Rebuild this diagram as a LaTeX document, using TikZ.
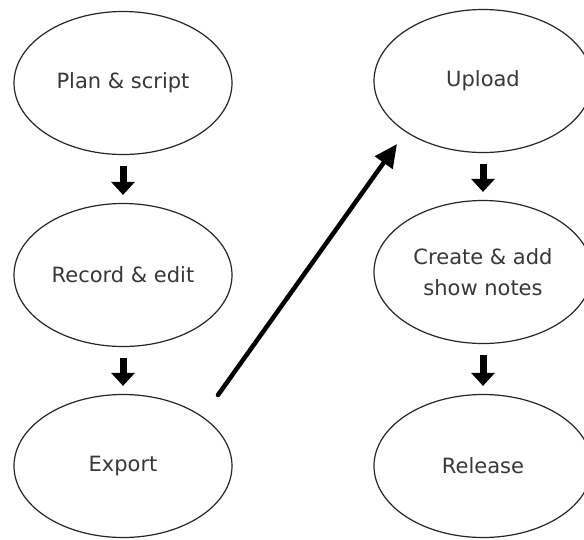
\documentclass[tikz,border=0pt]{standalone}
\usepackage{fontspec}
\setmainfont{DejaVu Sans}
\usetikzlibrary{shapes.geometric,arrows.meta}

\tikzset{
  stage/.style={ellipse, draw=black!85, line width=1.2pt, fill=white,
    minimum width=218pt, minimum height=143pt, inner sep=0pt,
    text=black!78, font=\fontsize{21}{31}\selectfont, align=center},
  flowdown/.style={line width=7pt, black,
    -{Triangle[width=23pt,length=13pt]},
    shorten <=11pt, shorten >=8pt},
  jump/.style={line width=4.5pt, black, line cap=round,
    -{Triangle[width=21pt,length=23pt]}}
}

\begin{document}
\begin{tikzpicture}[x=1pt, y=-1pt]
  \clip (0,0) rectangle (584,539);
  \fill[white] (0,0) rectangle (584,539);

  % left column
  \node[stage] (plan)    at (123,83)  {Plan \& script};
  \node[stage] (record)  at (123,275) {Record \& edit};
  \node[stage] (export)  at (123,466) {Export};

  % right column
  \node[stage] (upload)  at (483,81)  {Upload};
  \node[stage] (notes)   at (483,272) {Create \& add\\show notes};
  \node[stage] (release) at (483,466) {Release};

  % steps down each column
  \draw[flowdown] (plan.south)   -- (record.north);
  \draw[flowdown] (record.south) -- (export.north);
  \draw[flowdown] (upload.south) -- (notes.north);
  \draw[flowdown] (notes.south)  -- (release.north);

  % from the bottom of the left column to the top of the right one
  \draw[jump] ([shift={(95,-71)}]export.center) -- ([shift={(-86,63)}]upload.center);
\end{tikzpicture}
\end{document}
